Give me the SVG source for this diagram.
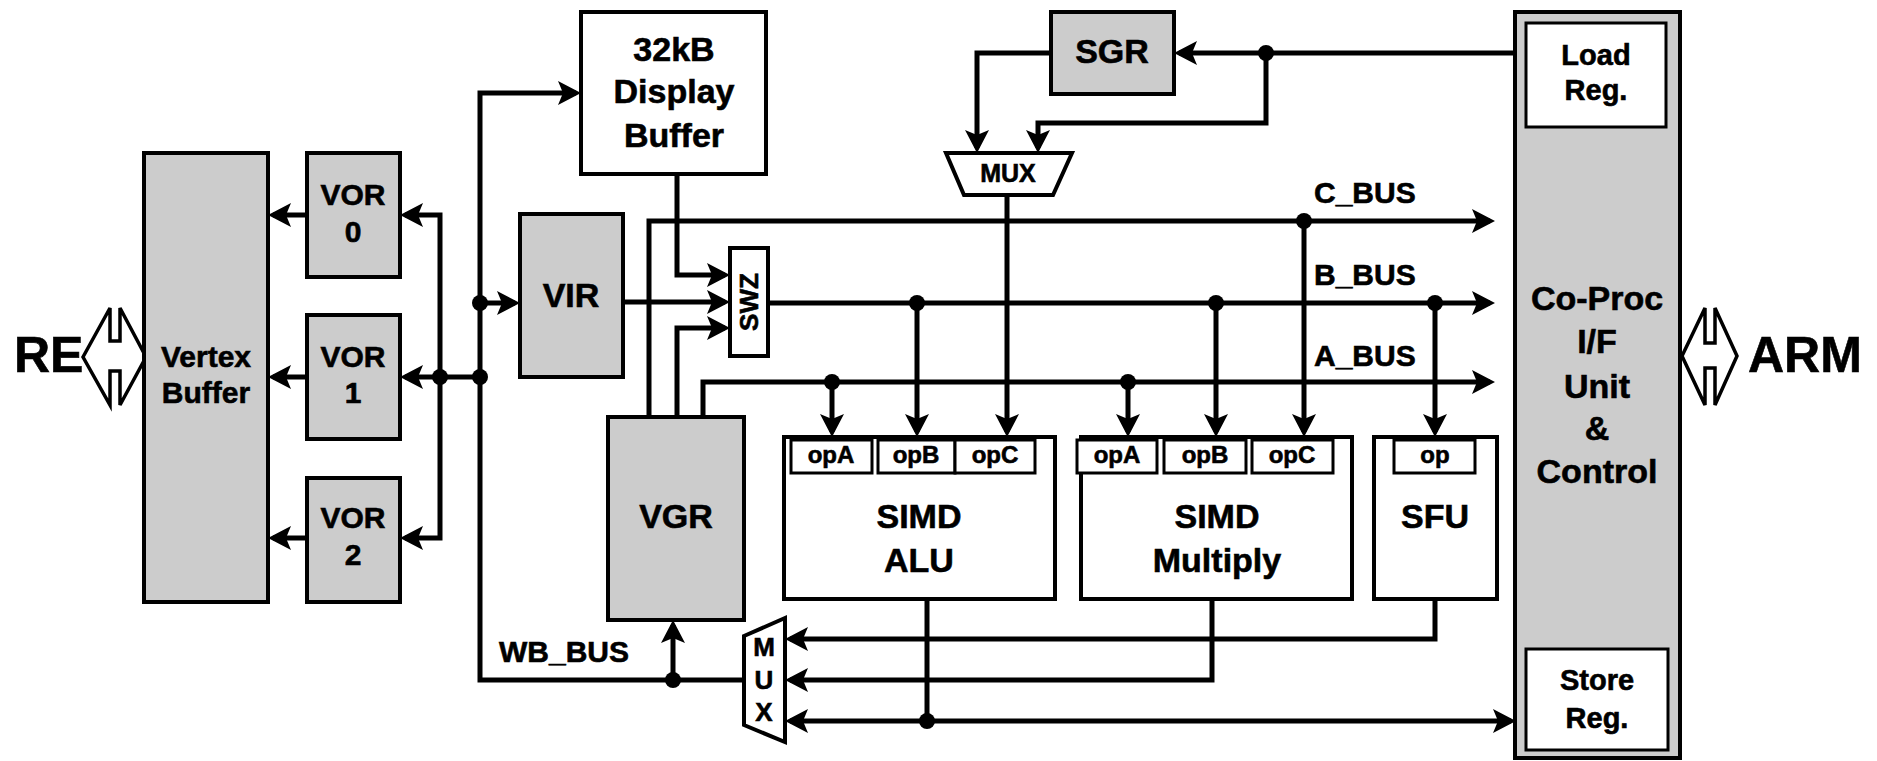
<svg xmlns="http://www.w3.org/2000/svg" width="1877" height="761" viewBox="0 0 1877 761">
<style>
text{font-family:"Liberation Sans",Arial,sans-serif;font-weight:bold;fill:#000;stroke:#000;stroke-width:0.6;text-anchor:middle}
.box{stroke:#000;stroke-width:4;fill:#fff}
.g{fill:#ccc}
.op{stroke:#000;stroke-width:3;fill:#fff}
.ln{fill:none;stroke:#000;stroke-width:5;stroke-linejoin:miter}
.big{font-size:34px}
.mid{font-size:30px}
.sm{font-size:24px}
.mx{font-size:26px}
.hu{font-size:50px}
.dbl{fill:#fff;stroke:#000;stroke-width:3.5;stroke-linejoin:miter}
</style>
<defs>
<marker id="ah" viewBox="-24 -13 30 26" markerWidth="30" markerHeight="26" refX="0" refY="0" orient="auto-start-reverse" markerUnits="userSpaceOnUse">
<path d="M5,0 L-18,-12 L-13,0 L-18,12 Z" fill="#000"/>
</marker>
</defs>
<rect width="1877" height="761" fill="#fff"/>

<g id="connectors">
<path class="ln" d="M307,215 L273,215" marker-end="url(#ah)"/>
<path class="ln" d="M307,377 L273,377" marker-end="url(#ah)"/>
<path class="ln" d="M307,538 L273,538" marker-end="url(#ah)"/>
<path class="ln" d="M405,215 L440,215 L440,538 L405,538" marker-start="url(#ah)" marker-end="url(#ah)"/>
<path class="ln" d="M480,377 L405,377" marker-end="url(#ah)"/>
<path class="ln" d="M744,680 L480,680 L480,93 L576,93" marker-end="url(#ah)"/>
<path class="ln" d="M480,303 L515,303" marker-end="url(#ah)"/>
<path class="ln" d="M673,680 L673,625" marker-end="url(#ah)"/>
<path class="ln" d="M677,174 L677,275 L725,275" marker-end="url(#ah)"/>
<path class="ln" d="M623,302 L725,302" marker-end="url(#ah)"/>
<path class="ln" d="M677,417 L677,328 L725,328" marker-end="url(#ah)"/>
<path class="ln" d="M649,417 L649,221 L1490,221" marker-end="url(#ah)"/>
<path class="ln" d="M768,303 L1490,303" marker-end="url(#ah)"/>
<path class="ln" d="M703,417 L703,382 L1490,382" marker-end="url(#ah)"/>
<path class="ln" d="M832,382 L832,432" marker-end="url(#ah)"/>
<path class="ln" d="M917,303 L917,432" marker-end="url(#ah)"/>
<path class="ln" d="M1007,195 L1007,432" marker-end="url(#ah)"/>
<path class="ln" d="M1128,382 L1128,432" marker-end="url(#ah)"/>
<path class="ln" d="M1216,303 L1216,432" marker-end="url(#ah)"/>
<path class="ln" d="M1304,221 L1304,432" marker-end="url(#ah)"/>
<path class="ln" d="M1435,303 L1435,432" marker-end="url(#ah)"/>
<path class="ln" d="M1051,53 L977,53 L977,148" marker-end="url(#ah)"/>
<path class="ln" d="M1515,53 L1179,53" marker-end="url(#ah)"/>
<path class="ln" d="M1266,53 L1266,123 L1038,123 L1038,148" marker-end="url(#ah)"/>
<path class="ln" d="M1435,599 L1435,639 L790,639" marker-end="url(#ah)"/>
<path class="ln" d="M1212,599 L1212,680 L790,680" marker-end="url(#ah)"/>
<path class="ln" d="M790,721 L1511,721" marker-start="url(#ah)" marker-end="url(#ah)"/>
<path class="ln" d="M927,599 L927,721"/>
<g fill="#000">
<circle cx="440" cy="377" r="8"/>
<circle cx="480" cy="377" r="8"/>
<circle cx="480" cy="303" r="8"/>
<circle cx="673" cy="680" r="8"/>
<circle cx="832" cy="382" r="8"/>
<circle cx="917" cy="303" r="8"/>
<circle cx="1128" cy="382" r="8"/>
<circle cx="1216" cy="303" r="8"/>
<circle cx="1304" cy="221" r="8"/>
<circle cx="1435" cy="303" r="8"/>
<circle cx="1266" cy="53" r="8"/>
<circle cx="927" cy="721" r="8"/>
</g>
<text class="mid" x="1314" y="203" style="text-anchor:start">C_BUS</text>
<text class="mid" x="1314" y="285" style="text-anchor:start">B_BUS</text>
<text class="mid" x="1314" y="366" style="text-anchor:start">A_BUS</text>
<text class="mid" x="499" y="662" style="text-anchor:start">WB_BUS</text>
</g>

<g id="re">
<text class="hu" x="14" y="372" style="text-anchor:start">RE</text>
<path class="dbl" d="M83,357 L110,308 L110,341 L120,341 L120,308 L146,357 L120,405 L120,371 L110,371 L110,405 Z"/>
</g>

<g id="vertex-buffer">
<rect class="box g" x="144" y="153" width="124" height="449"/>
<text class="mid" x="206" y="367">Vertex</text>
<text class="mid" x="206" y="403">Buffer</text>
</g>

<g id="vor0">
<rect class="box g" x="307" y="153" width="93" height="124"/>
<text class="mid" x="353" y="205">VOR</text>
<text class="mid" x="353" y="242">0</text>
</g>
<g id="vor1">
<rect class="box g" x="307" y="315" width="93" height="124"/>
<text class="mid" x="353" y="367">VOR</text>
<text class="mid" x="353" y="403">1</text>
</g>
<g id="vor2">
<rect class="box g" x="307" y="478" width="93" height="124"/>
<text class="mid" x="353" y="528">VOR</text>
<text class="mid" x="353" y="565">2</text>
</g>

<g id="display-buffer">
<rect class="box" x="581" y="12" width="185" height="162"/>
<text class="big" x="674" y="61">32kB</text>
<text class="big" x="674" y="103">Display</text>
<text class="big" x="674" y="147">Buffer</text>
</g>

<g id="vir">
<rect class="box g" x="520" y="214" width="103" height="163"/>
<text class="big" x="571" y="307">VIR</text>
</g>

<g id="swz">
<rect class="box" x="730" y="248" width="38" height="108"/>
<text style="font-size:26px" transform="translate(758,302) rotate(-90)">SWZ</text>
</g>

<g id="vgr">
<rect class="box g" x="608" y="417" width="136" height="203"/>
<text class="big" x="676" y="528">VGR</text>
</g>

<g id="simd-alu">
<rect class="box" x="784" y="437" width="271" height="162"/>
<rect class="op" x="791" y="440" width="81" height="33"/>
<rect class="op" x="878" y="440" width="77" height="33"/>
<rect class="op" x="955" y="440" width="80" height="33"/>
<text class="sm" x="831" y="463">opA</text>
<text class="sm" x="916" y="463">opB</text>
<text class="sm" x="995" y="463">opC</text>
<text class="big" x="919" y="528">SIMD</text>
<text class="big" x="919" y="572">ALU</text>
</g>

<g id="simd-multiply">
<rect class="box" x="1081" y="437" width="271" height="162"/>
<rect class="op" x="1077" y="440" width="80" height="33"/>
<rect class="op" x="1164" y="440" width="82" height="33"/>
<rect class="op" x="1252" y="440" width="81" height="33"/>
<text class="sm" x="1117" y="463">opA</text>
<text class="sm" x="1205" y="463">opB</text>
<text class="sm" x="1292" y="463">opC</text>
<text class="big" x="1217" y="528">SIMD</text>
<text class="big" x="1217" y="572">Multiply</text>
</g>

<g id="sfu">
<rect class="box" x="1374" y="437" width="123" height="162"/>
<rect class="op" x="1394" y="440" width="81" height="33"/>
<text class="sm" x="1435" y="463">op</text>
<text class="big" x="1435" y="528">SFU</text>
</g>

<g id="sgr">
<rect class="box g" x="1051" y="12" width="123" height="82"/>
<text class="big" x="1112" y="63">SGR</text>
</g>

<g id="mux-top">
<polygon class="box" points="946,153 1072,153 1053,195 964,195"/>
<text style="font-size:25px" x="1008" y="182">MUX</text>
</g>

<g id="mux-bottom">
<polygon class="box" points="744,636 785,618 785,742 744,725"/>
<text class="mx" x="764" y="656">M</text>
<text class="mx" x="764" y="689">U</text>
<text class="mx" x="764" y="721">X</text>
</g>

<g id="coproc">
<rect class="box g" x="1515" y="12" width="165" height="746"/>
<text class="big" x="1597" y="310">Co-Proc</text>
<text class="big" x="1597" y="353">I/F</text>
<text class="big" x="1597" y="398">Unit</text>
<text class="big" x="1597" y="440">&amp;</text>
<text class="big" x="1597" y="483">Control</text>
</g>

<g id="load-reg">
<rect class="op" x="1526" y="23" width="140" height="104"/>
<text style="font-size:29px" x="1596" y="65">Load</text>
<text style="font-size:29px" x="1596" y="100">Reg.</text>
</g>

<g id="store-reg">
<rect class="op" x="1526" y="649" width="142" height="101"/>
<text style="font-size:29px" x="1597" y="690">Store</text>
<text style="font-size:29px" x="1597" y="728">Reg.</text>
</g>

<g id="arm">
<path class="dbl" d="M1682,356 L1705,308 L1705,343 L1715,343 L1715,308 L1737,356 L1715,405 L1715,368 L1705,368 L1705,405 Z"/>
<text class="hu" x="1748" y="372" style="text-anchor:start">ARM</text>
</g>
</svg>
